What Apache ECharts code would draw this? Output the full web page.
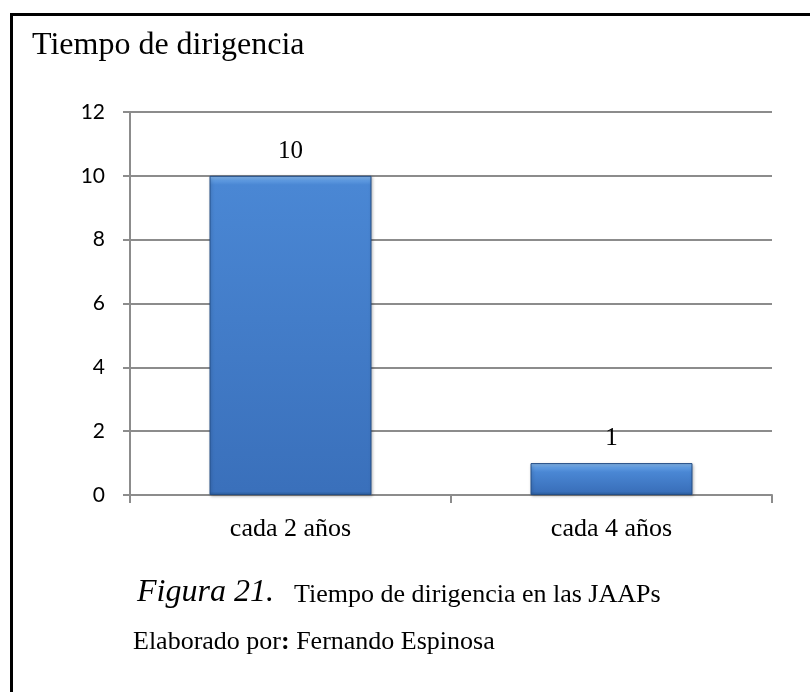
<!DOCTYPE html>
<html>
<head>
<meta charset="utf-8">
<script src="https://cdn.jsdelivr.net/npm/echarts@6/dist/echarts.min.js"></script>
<style>
html,body{margin:0;padding:0;background:#fff;}
#chart{width:810px;height:692px;}
</style>
</head>
<body>
<div id="chart"></div>
<script>
const categories = ['cada 2 años', 'cada 4 años'];
const values = [10, 1];
const yTicks = [0, 2, 4, 6, 8, 10, 12];
const titleText = 'Tiempo de dirigencia';
const figLabel = 'Figura 21.';
const figCaption = 'Tiempo de dirigencia en las JAAPs';
const authorLabel = 'Elaborado por';
const authorName = ' Fernando Espinosa';

const chart = echarts.init(document.getElementById('chart'), null, {renderer: 'canvas'});
const SERIF = '"Liberation Serif", "Times New Roman", serif';
const PX_PER_UNIT = 383 / 12;

function barColor(v) {
  const h = Math.max(v * PX_PER_UNIT, 1);
  const t = Math.min(9 / h, 0.45);
  return {
    type: 'linear', x: 0, y: 0, x2: 0, y2: 1,
    colorStops: [
      {offset: 0, color: '#8dbdf0'},
      {offset: t * 0.5, color: '#5e9ae0'},
      {offset: t, color: '#4a87d4'},
      {offset: Math.max(1 - 0.4 * t, t), color: '#3a70bb'},
      {offset: 1, color: '#2c5f9f'}
    ]
  };
}

chart.setOption({
  backgroundColor: '#ffffff',
  animation: false,
  grid: {left: 130, right: 38, top: 112, bottom: 197, containLabel: false},
  xAxis: {
    type: 'category',
    data: categories,
    boundaryGap: true,
    axisLine: {show: true, lineStyle: {color: '#8c8c8c', width: 2}},
    axisTick: {show: true, length: 8, inside: false, lineStyle: {color: '#8c8c8c', width: 2}},
    axisLabel: {margin: 21, color: '#000', fontFamily: SERIF, fontSize: 26}
  },
  yAxis: {
    type: 'value',
    min: yTicks[0],
    max: yTicks[yTicks.length - 1],
    interval: 2,
    axisLine: {show: true, lineStyle: {color: '#8c8c8c', width: 2}},
    axisTick: {show: true, length: 7, lineStyle: {color: '#8c8c8c', width: 2}},
    splitLine: {show: true, lineStyle: {color: '#8c8c8c', width: 2}},
    axisLabel: {margin: 25, color: '#000', fontFamily: 'Lato, "Open Sans", sans-serif', fontSize: 21}
  },
  series: [{
    type: 'bar',
    data: values.map(v => ({value: v, itemStyle: {color: barColor(v)}})),
    barWidth: 162,
    itemStyle: {borderColor: '#244e86', borderWidth: 1,
      shadowColor: 'rgba(0,0,0,0.25)', shadowBlur: 3, shadowOffsetX: 1, shadowOffsetY: 1},
    label: {show: true, position: 'top', distance: 12, color: '#000', fontFamily: SERIF, fontSize: 25}
  }],
  graphic: [
    {type: 'rect', shape: {x: 10, y: 13, width: 800, height: 3}, style: {fill: '#000'}, silent: true},
    {type: 'rect', shape: {x: 10, y: 13, width: 3, height: 679}, style: {fill: '#000'}, silent: true},
    {type: 'text', left: 32, top: 30, style: {text: titleText, font: '32px ' + SERIF, fill: '#000'}},
    {type: 'text', left: 137, top: 577, style: {text: figLabel, font: 'italic 32px ' + SERIF, fill: '#000'}},
    {type: 'text', left: 294, top: 582, style: {text: figCaption, font: '26px ' + SERIF, fill: '#000'}},
    {type: 'text', left: 133, top: 629, style: {
      text: '{a|' + authorLabel + '}{b|:}{a|' + authorName + '}',
      rich: {a: {font: '26px ' + SERIF, fill: '#000'}, b: {font: 'bold 26px ' + SERIF, fill: '#000'}}
    }}
  ]
});
</script>
</body>
</html>
